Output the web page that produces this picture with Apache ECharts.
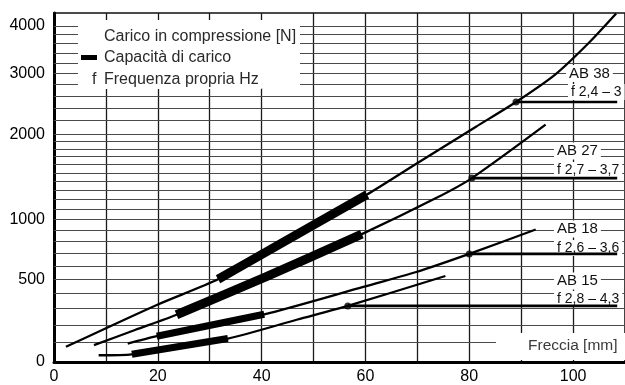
<!DOCTYPE html>
<html><head><meta charset="utf-8">
<script src="https://cdn.jsdelivr.net/npm/echarts@6/dist/echarts.min.js"></script>
<style>html,body{margin:0;padding:0;background:#fff}#c{width:625px;height:385px}</style>
</head><body><div id="c"></div>
<script>
// y scale of the original is logarithmic in (F + OFFSET)
const OFFSET = 1075;
const Y_MAX = 4311;
const xTickLabels = [0, 20, 40, 60, 80, 100];
const yTickLabels = [0, 500, 1000, 2000, 3000, 4000];
const yGridValues = [100, 200, 300, 400, 500, 600, 700, 800, 900, 1000, 1100, 1200, 1300, 1400, 1500, 1600, 1700, 1800, 1900, 2000, 2200, 2400, 2600, 2800, 3000, 3200, 3400, 3600, 3800, 4000];

const names = ['AB 38', 'AB 27', 'AB 18', 'AB 15'];
const freqLabels = ['f 2,4 \u2013 3', 'f 2,7 \u2013 3,7', 'f 2,6 \u2013 3,6', 'f 2,8 \u2013 4,3'];

// Carico in compressione [N] vs Freccia [mm]
const curveAB38 = [[2.3, 78], [19.8, 324], [31.6, 500], [40.8, 710], [60.3, 1254], [69.8, 1610], [81.3, 2111], [89, 2496], [96.6, 2983], [103, 3615], [108.3, 4300]];
const curveAB27 = [[7.7, 87], [15.6, 171], [23.6, 262], [40.8, 517], [59.3, 865], [73.7, 1219], [80.5, 1438], [94.7, 2141]];
const curveAB18 = [[14.2, 95], [19.8, 136], [40.5, 265], [59.6, 446], [69.8, 554], [80, 696], [92.8, 907]];
const curveAB15 = [[8.6, 34], [15, 39], [33.5, 123], [46.9, 233], [56.6, 318], [75.4, 524]];

// Capacità di carico (thick segments)
const loadAB38 = [[31.6, 500], [40.8, 710], [60.3, 1254]];
const loadAB27 = [[23.6, 262], [40.8, 517], [59.3, 865]];
const loadAB18 = [[19.8, 136], [40.5, 265]];
const loadAB15 = [[15, 39], [33.5, 123]];

// Frequenza propria points
const freqPoints = [[89, 2496], [80.5, 1438], [80, 696], [56.6, 318]];
const freqLineEndX = 108.5;

const curves = [curveAB38, curveAB27, curveAB18, curveAB15];
const loads = [loadAB38, loadAB27, loadAB18, loadAB15];
const loadWidths = [9, 9, 7, 7];

const tr = d => d.map(p => [p[0], p[1] + OFFSET]);
const FONT = '"Liberation Sans", Arial, sans-serif';

const series = [];
series.push({
  type: 'line', z: 1, silent: true, symbol: 'none',
  data: [[0, OFFSET]], lineStyle: { opacity: 0 },
  markLine: {
    z: 1, silent: true, symbol: ['none', 'none'], label: { show: false },
    lineStyle: { color: '#4a4a4a', width: 1.2, type: 'solid' },
    emphasis: { disabled: true },
    data: yGridValues.map(v => ({ yAxis: v + OFFSET }))
  }
});
curves.forEach((c, i) => {
  series.push({ name: names[i], type: 'line', z: 10, smooth: 0.25, symbol: 'none', data: tr(c),
    lineStyle: { color: '#000', width: 2.3 } });
  series.push({ name: names[i] + ' carico', type: 'line', z: 10, smooth: 0.25, symbol: 'none', data: tr(loads[i]),
    lineStyle: { color: '#000', width: loadWidths[i], cap: 'butt' } });
  const fp = freqPoints[i];
  series.push({ name: names[i] + ' f', type: 'line', z: 10, symbol: 'none',
    data: tr([fp, [freqLineEndX, fp[1]]]), lineStyle: { color: '#000', width: 2.7 } });
});
series.push({ type: 'scatter', z: 11, symbol: 'circle', symbolSize: 7, itemStyle: { color: '#000' }, data: tr(freqPoints) });

const txt = (x, y, text, size, color) => ({
  type: 'text', x: x, y: y, z: 7, silent: true,
  style: { text: text, font: size + 'px ' + FONT, fill: color, verticalAlign: 'middle', align: 'left',
    backgroundColor: '#fff', padding: [1, 3, 1, 3] }
});

const graphic = [
  { type: 'rect', z: 6, silent: true, shape: { x: 78, y: 20, width: 222, height: 68 }, style: { fill: '#fff' } },
  { type: 'rect', z: 6, silent: true, shape: { x: 496, y: 333, width: 130, height: 27 }, style: { fill: '#fff' } },
  { type: 'rect', z: 8, silent: true, shape: { x: 81, y: 55, width: 16, height: 5 }, style: { fill: '#000' } },
  txt(101, 37, 'Carico in compressione [N]', 16, '#2a2a2a'),
  txt(101, 58, 'Capacit\u00e0 di carico', 16, '#2a2a2a'),
  txt(89, 80, 'f', 16, '#2a2a2a'),
  txt(101, 80, 'Frequenza propria Hz', 16, '#2a2a2a'),
  txt(525, 346, 'Freccia [mm]', 15.5, '#3a3a3a'),
  txt(566, 73.5, names[0], 15, '#111'),
  txt(568, 92, freqLabels[0], 14, '#111'),
  txt(554, 151, names[1], 15, '#111'),
  txt(554, 170, freqLabels[1], 14, '#111'),
  txt(554, 229, names[2], 15, '#111'),
  txt(554, 248, freqLabels[2], 14, '#111'),
  txt(554, 281, names[3], 15, '#111'),
  txt(554, 299, freqLabels[3], 14, '#111')
];

const chart = echarts.init(document.getElementById('c'), null, { renderer: 'canvas' });
chart.setOption({
  animation: false,
  backgroundColor: '#fff',
  grid: { left: 54, right: -4, top: 13, bottom: 20, show: true, borderColor: '#111', borderWidth: 1.5 },
  xAxis: {
    type: 'value', min: 0, max: 110, interval: 10,
    axisLine: { lineStyle: { color: '#000', width: 3 } },
    axisTick: { show: false },
    splitLine: { show: true, lineStyle: { color: '#1a1a1a', width: 1.3 } },
    axisLabel: { customValues: xTickLabels, fontSize: 16, color: '#000', margin: 7, fontFamily: FONT }
  },
  yAxis: {
    type: 'log', logBase: 10, min: OFFSET, max: Y_MAX + OFFSET,
    axisLine: { show: true, lineStyle: { color: '#000', width: 3 } },
    axisTick: { show: false },
    splitLine: { show: false },
    minorSplitLine: { show: false },
    axisLabel: {
      customValues: yTickLabels.map(v => v + OFFSET),
      formatter: v => String(Math.round(v - OFFSET)),
      fontSize: 16, color: '#000', margin: 9, fontFamily: FONT
    }
  },
  graphic: graphic,
  series: series
});
</script>
</body></html>
